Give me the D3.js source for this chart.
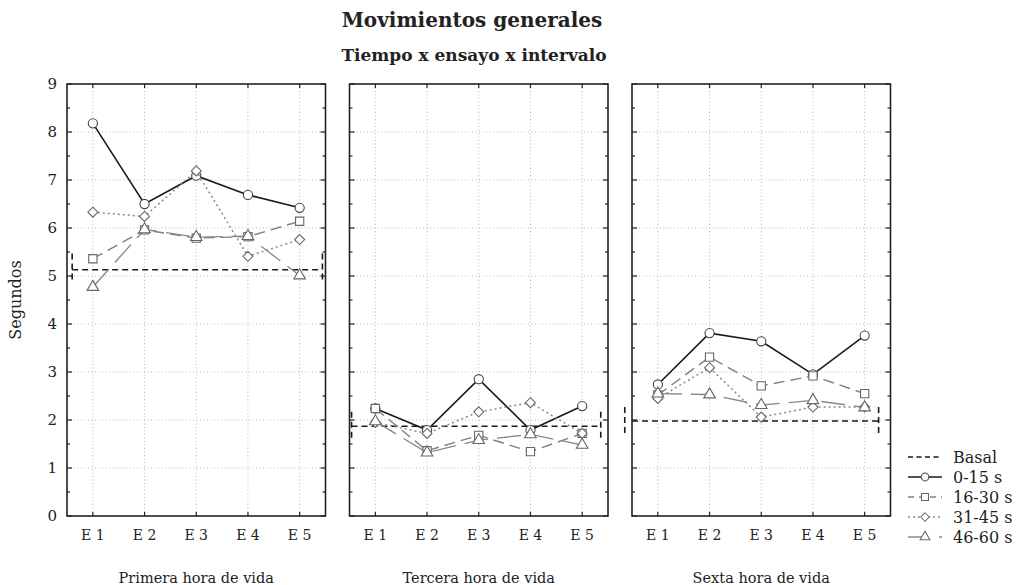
<!DOCTYPE html>
<html>
<head>
<meta charset="utf-8">
<script src="https://cdn.jsdelivr.net/npm/d3@7"></script>
<style>
  body { margin: 0; background: #fff; }
  svg { display: block; font-family: "DejaVu Serif", serif; }
</style>
</head>
<body>
<svg id="chart" width="1019" height="585"></svg>
<script>
// categories
const trials = ["E 1", "E 2", "E 3", "E 4", "E 5"];
const panelTitles = ["Primera hora de vida", "Tercera hora de vida", "Sexta hora de vida"];
const yTicks = [0, 1, 2, 3, 4, 5, 6, 7, 8, 9];

// series values, one row per panel (seconds)
const int0_15 = [[8.18, 6.50, 7.09, 6.69, 6.42], [2.24, 1.79, 2.85, 1.79, 2.29], [2.74, 3.81, 3.64, 2.95, 3.76]];
const int16_30 = [[5.36, 5.96, 5.79, 5.82, 6.14], [2.24, 1.36, 1.68, 1.34, 1.72], [2.52, 3.31, 2.71, 2.92, 2.55]];
const int31_45 = [[6.33, 6.24, 7.19, 5.41, 5.76], [1.95, 1.72, 2.17, 2.36, 1.72], [2.45, 3.09, 2.06, 2.27, 2.27]];
const int46_60 = [[4.77, 5.97, 5.81, 5.83, 5.01], [1.97, 1.32, 1.58, 1.70, 1.48], [2.55, 2.53, 2.31, 2.41, 2.26]];

// basal reference per panel, with its bracket range and extent (trial units)
const basal = [5.13, 1.87, 1.98];
const basalHi = [5.47, 2.17, 2.27];
const basalLo = [4.90, 1.60, 1.72];
const basalFrom = [0.60, 0.54, 0.36];
const basalTo = [5.44, 5.36, 5.27];

const series = [
  { label: "0-15 s", values: int0_15, color: "#1a1a1a", dash: null, width: 1.6, mark: "circle", mstroke: "#444" },
  { label: "16-30 s", values: int16_30, color: "#808080", dash: "11,6", width: 1.4, mark: "square", mstroke: "#666" },
  { label: "31-45 s", values: int31_45, color: "#8a8a8a", dash: "2,3", width: 1.5, mark: "diamond", mstroke: "#666" },
  { label: "46-60 s", values: int46_60, color: "#8a8a8a", dash: "24,9", width: 1.4, mark: "triangle", mstroke: "#666" },
];

const svg = d3.select("#chart");
const margin = { left: 67, top: 84, bottom: 516 };
const panelW = 258.5, panelGap = 24;

const y = d3.scaleLinear().domain([0, 9]).range([margin.bottom, margin.top]);

function markPath(type) {
  if (type === "circle") return d3.symbol(d3.symbolCircle, 66)();
  if (type === "square") return d3.symbol(d3.symbolSquare, 68)();
  if (type === "triangle") return d3.symbol(d3.symbolTriangle, 58)();
  // square turned 45 degrees
  return "M0,-5L5,0L0,5L-5,0Z";
}

// titles
svg.append("text").attr("x", 472).attr("y", 27).attr("text-anchor", "middle")
  .attr("font-size", "20px").attr("font-weight", "bold").attr("fill", "#222")
  .text("Movimientos generales");
svg.append("text").attr("x", 474).attr("y", 61).attr("text-anchor", "middle")
  .attr("font-size", "17px").attr("font-weight", "bold").attr("fill", "#222")
  .text("Tiempo x ensayo x intervalo");

svg.append("text")
  .attr("transform", `translate(21,${(margin.top + margin.bottom) / 2}) rotate(-90)`)
  .attr("text-anchor", "middle").attr("font-size", "16px").attr("fill", "#222")
  .text("Segundos");

panelTitles.forEach((title, p) => {
  const x0 = margin.left + p * (panelW + panelGap);
  const x = d3.scaleLinear().domain([0.5, 5.5]).range([x0, x0 + panelW]);
  const g = svg.append("g");

  // dotted grid
  g.selectAll(".hgrid").data(yTicks.slice(1, -1)).join("line")
    .attr("x1", x0).attr("x2", x0 + panelW)
    .attr("y1", d => y(d)).attr("y2", d => y(d))
    .attr("stroke", "#b8b8b8").attr("stroke-dasharray", "1,2.5");
  g.selectAll(".vgrid").data(trials).join("line")
    .attr("x1", (d, i) => x(i + 1)).attr("x2", (d, i) => x(i + 1))
    .attr("y1", margin.top).attr("y2", margin.bottom)
    .attr("stroke", "#b8b8b8").attr("stroke-dasharray", "1,2.5");

  // inward ticks on all four sides
  const halfTicks = d3.range(0, 9.01, 0.5);
  [x0, x0 + panelW].forEach((bx, side) => {
    const dir = side === 0 ? 1 : -1;
    g.selectAll(null).data(halfTicks).join("line")
      .attr("x1", bx).attr("x2", d => bx + dir * (d % 1 === 0 ? 5 : 3))
      .attr("y1", d => y(d)).attr("y2", d => y(d))
      .attr("stroke", "#222").attr("stroke-width", 1.2);
  });
  [margin.top, margin.bottom].forEach((by, side) => {
    const dir = side === 0 ? 1 : -1;
    g.selectAll(null).data(trials).join("line")
      .attr("x1", (d, i) => x(i + 1)).attr("x2", (d, i) => x(i + 1))
      .attr("y1", by).attr("y2", by + dir * 4)
      .attr("stroke", "#222").attr("stroke-width", 1.2);
  });

  // trial labels
  g.selectAll(".xl").data(trials).join("text")
    .attr("x", (d, i) => x(i + 1)).attr("y", 540)
    .attr("text-anchor", "middle").attr("font-size", "14px").attr("fill", "#222")
    .text(d => d);

  g.append("text").attr("x", x0 + panelW / 2).attr("y", 583)
    .attr("text-anchor", "middle").attr("font-size", "14.5px").attr("fill", "#222")
    .text(title);

  // basal line with end brackets
  const bStyle = s => s.attr("stroke", "#1a1a1a").attr("stroke-width", 1.6)
    .attr("stroke-dasharray", "6,4").attr("fill", "none");
  g.append("line")
    .attr("x1", x(Math.max(basalFrom[p], 0.5))).attr("x2", x(basalTo[p]))
    .attr("y1", y(basal[p])).attr("y2", y(basal[p])).call(bStyle);
  [basalFrom[p], basalTo[p]].forEach(bx => {
    g.append("line").attr("x1", x(bx)).attr("x2", x(bx))
      .attr("y1", y(basalHi[p])).attr("y2", y(basalLo[p])).call(bStyle);
  });

  // series lines then markers
  const line = d3.line().x((d, i) => x(i + 1)).y(d => y(d));
  series.forEach(s => {
    g.append("path").datum(s.values[p]).attr("d", line)
      .attr("fill", "none").attr("stroke", s.color).attr("stroke-width", s.width)
      .attr("stroke-dasharray", s.dash);
    g.selectAll(null).data(s.values[p]).join("path")
      .attr("d", markPath(s.mark))
      .attr("transform", (d, i) => `translate(${x(i + 1)},${y(d)})`)
      .attr("fill", "#fff").attr("stroke", s.mstroke).attr("stroke-width", 1.1);
  });

  // frame
  g.append("rect").attr("x", x0).attr("y", margin.top)
    .attr("width", panelW).attr("height", margin.bottom - margin.top)
    .attr("fill", "none").attr("stroke", "#222").attr("stroke-width", 1.6);

  if (p === 0) {
    g.selectAll(".yl").data(yTicks).join("text")
      .attr("x", x0 - 10).attr("y", d => y(d)).attr("dy", "0.35em")
      .attr("text-anchor", "end").attr("font-size", "15px").attr("fill", "#222")
      .text(d => d);
  }
});

// legend
const legendRows = [{ label: "Basal", color: "#1a1a1a", dash: "5,3.5", width: 1.4, mark: null }].concat(series);
const legendDash = { circle: null, square: "6,5", diamond: "2,3", triangle: "20,11,3" };
const lg = svg.append("g").attr("transform", "translate(908,457)");
legendRows.forEach((r, i) => {
  const row = lg.append("g").attr("transform", `translate(0,${i * 20})`);
  row.append("line").attr("x1", 0).attr("x2", 34).attr("y1", 0).attr("y2", 0)
    .attr("stroke", r.color).attr("stroke-width", r.width)
    .attr("stroke-dasharray", r.mark ? legendDash[r.mark] : r.dash);
  if (r.mark) {
    row.append("path").attr("d", markPath(r.mark)).attr("transform", "translate(17,0) scale(0.85)")
      .attr("fill", "#fff").attr("stroke", r.mstroke).attr("stroke-width", 1.2);
  }
  row.append("text").attr("x", 45).attr("y", 0).attr("dy", "0.35em")
    .attr("font-size", "16px").attr("fill", "#222").text(r.label);
});
</script>
</body>
</html>
